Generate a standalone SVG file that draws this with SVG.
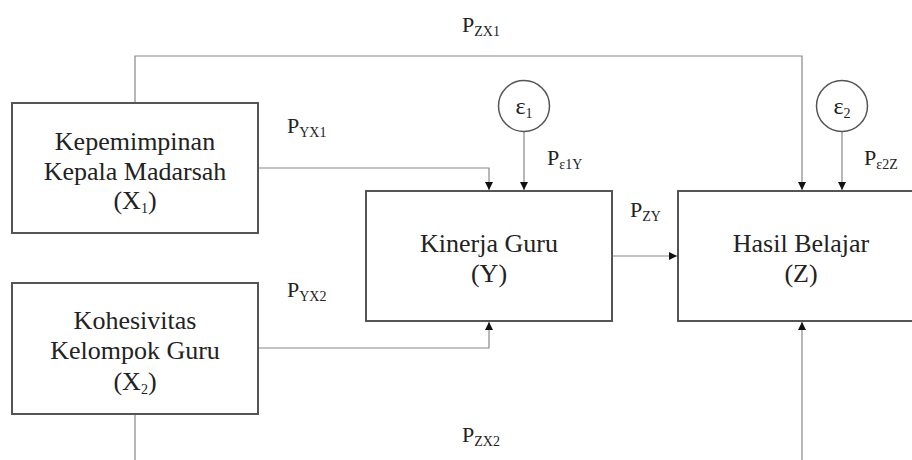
<svg xmlns="http://www.w3.org/2000/svg" width="912" height="460" viewBox="0 0 912 460">
<style>
.box{fill:#fff;stroke:#555;stroke-width:2}
.circ{fill:#fff;stroke:#555;stroke-width:1.5}
.con{fill:none;stroke:#888;stroke-width:1.2}
text{font-family:'Liberation Serif','DejaVu Serif',serif;fill:#222}
.t{font-size:26px;text-anchor:middle}
.p{font-size:22px}
.s{font-size:14px}
.e{font-size:24px;text-anchor:middle}
</style>
<defs>
<marker id="ah" viewBox="0 0 10 10" refX="10" refY="5" markerWidth="8" markerHeight="8" markerUnits="userSpaceOnUse" orient="auto">
<path d="M0,0 L10,5 L0,10 z" fill="#111"/>
</marker>
</defs>
<rect width="912" height="460" fill="#fff"/>
<g id="connectors">
<path class="con" d="M135,103 V56 H802 V190" marker-end="url(#ah)"/>
<path class="con" d="M258,168 H489 V190" marker-end="url(#ah)"/>
<path class="con" d="M524,132 V190" marker-end="url(#ah)"/>
<path class="con" d="M842,132 V190" marker-end="url(#ah)"/>
<path class="con" d="M612,256 H677" marker-end="url(#ah)"/>
<path class="con" d="M258,348 H489 V322" marker-end="url(#ah)"/>
<path class="con" d="M135,414 V460"/>
<path class="con" d="M802,460 V322" marker-end="url(#ah)"/>
</g>
<g id="X1">
<rect class="box" x="12" y="103" width="246" height="130"/>
<text class="t" x="135" y="150" font-family="Liberation Serif">Kepemimpinan</text>
<text class="t" x="135" y="180">Kepala Madarsah</text>
<text class="t" x="135" y="209">(X<tspan class="s" dy="4">1</tspan><tspan dy="-4">)</tspan></text>
</g>
<g id="X2">
<rect class="box" x="12" y="283" width="246" height="131"/>
<text class="t" x="135" y="329">Kohesivitas</text>
<text class="t" x="135" y="359">Kelompok Guru</text>
<text class="t" x="135" y="390">(X<tspan class="s" dy="4">2</tspan><tspan dy="-4">)</tspan></text>
</g>
<g id="Y">
<rect class="box" x="366" y="191" width="246" height="130"/>
<text class="t" x="489" y="252">Kinerja Guru</text>
<text class="t" x="489" y="282">(Y)</text>
</g>
<g id="Z">
<rect class="box" x="678" y="191" width="250" height="130"/>
<text class="t" x="801" y="252">Hasil Belajar</text>
<text class="t" x="801" y="282">(Z)</text>
</g>
<g id="e1">
<circle class="circ" cx="524" cy="106" r="25.5"/>
<text class="e" x="524" y="114">ε<tspan class="s" dy="4">1</tspan></text>
</g>
<g id="e2">
<circle class="circ" cx="842" cy="106" r="25.5"/>
<text class="e" x="842" y="114">ε<tspan class="s" dy="4">2</tspan></text>
</g>
<g id="labels">
<text class="p" x="462" y="32">P<tspan class="s" dy="4">ZX1</tspan></text>
<text class="p" x="287" y="133">P<tspan class="s" dy="4">YX1</tspan></text>
<text class="p" x="547" y="165">P<tspan class="s" dy="4">ε1Y</tspan></text>
<text class="p" x="864" y="165">P<tspan class="s" dy="4">ε2Z</tspan></text>
<text class="p" x="630" y="217">P<tspan class="s" dy="4">ZY</tspan></text>
<text class="p" x="287" y="297">P<tspan class="s" dy="4">YX2</tspan></text>
<text class="p" x="462" y="442">P<tspan class="s" dy="4">ZX2</tspan></text>
</g>
</svg>
